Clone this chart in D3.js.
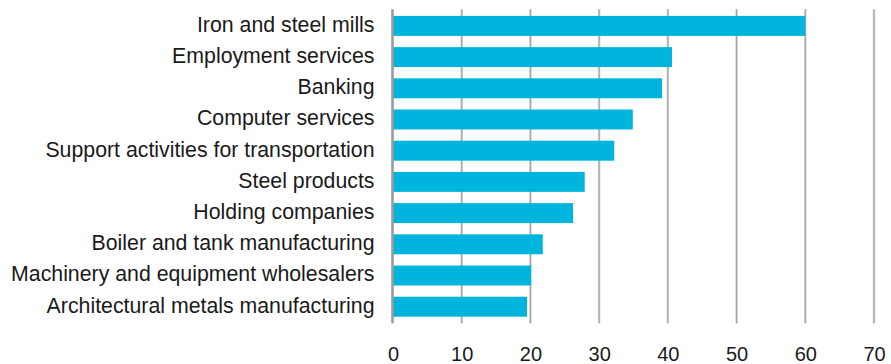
<!DOCTYPE html>
<html>
<head>
<meta charset="utf-8">
<script src="https://cdn.jsdelivr.net/npm/d3@7"></script>
<style>
  html, body { margin: 0; padding: 0; background: #fff; }
  svg { display: block; font-family: "Liberation Sans", Arial, Helvetica, sans-serif; }
</style>
</head>
<body>
<svg id="chart" width="891" height="364"></svg>
<script>
// Industries, top to bottom
const industries = [
  "Iron and steel mills",
  "Employment services",
  "Banking",
  "Computer services",
  "Support activities for transportation",
  "Steel products",
  "Holding companies",
  "Boiler and tank manufacturing",
  "Machinery and equipment wholesalers",
  "Architectural metals manufacturing"
];
const values = [60.0, 40.6, 39.15, 34.9, 32.2, 27.9, 26.2, 21.8, 20.1, 19.5];
const xTicks = [0, 10, 20, 30, 40, 50, 60, 70];

const svg = d3.select("#chart");

const x = d3.scaleLinear().domain([0, 70]).range([393, 874]);
const y = d3.scaleBand()
  .domain(industries)
  .range([10.3, 322.3])
  .paddingInner(0.36)
  .paddingOuter(0.18);

const gridTop = 9.3, gridBottom = 323.3;

// vertical gridlines (soft halo + core)
const grid = svg.append("g");
grid.selectAll("line.halo")
  .data(xTicks.filter(d => d > 0))
  .join("line")
  .attr("class", "halo")
  .attr("x1", d => x(d)).attr("x2", d => x(d))
  .attr("y1", gridTop).attr("y2", gridBottom)
  .attr("stroke", "#dadada").attr("stroke-width", 2.6);
grid.selectAll("line.core")
  .data(xTicks.filter(d => d > 0))
  .join("line")
  .attr("class", "core")
  .attr("x1", d => x(d)).attr("x2", d => x(d))
  .attr("y1", gridTop).attr("y2", gridBottom)
  .attr("stroke", "#a4a4a4").attr("stroke-width", 1.2);

// bars
svg.append("g").selectAll("rect")
  .data(industries.map((name, i) => ({ name, value: values[i] })))
  .join("rect")
  .attr("x", x(0))
  .attr("y", d => y(d.name))
  .attr("width", d => x(d.value) - x(0))
  .attr("height", y.bandwidth())
  .attr("fill", "#00b5dd");

// category axis line
svg.append("line")
  .attr("x1", x(0) - 0.5).attr("x2", x(0) - 0.5)
  .attr("y1", gridTop).attr("y2", gridBottom)
  .attr("stroke", "#9b9b9b").attr("stroke-width", 2.6);

// category labels
svg.append("g").selectAll("text")
  .data(industries)
  .join("text")
  .attr("x", 374.5)
  .attr("y", d => y(d) + y.bandwidth() / 2)
  .attr("dy", "0.28em")
  .attr("text-anchor", "end")
  .attr("font-size", 21.3)
  .attr("fill", "#1a1a1a")
  .text(d => d);

// value axis tick labels
const xAxis = d3.axisBottom(x).tickValues(xTicks).tickSize(0).tickPadding(0).tickFormat(d3.format("d"));
const gx = svg.append("g").attr("transform", "translate(0,347)").call(xAxis);
gx.select(".domain").remove();
gx.selectAll("text")
  .attr("font-size", 20)
  .attr("font-family", "\"Liberation Sans\", Arial, Helvetica, sans-serif")
  .attr("fill", "#1a1a1a")
  .attr("dy", "0.72em")
  .attr("y", 0);
</script>
</body>
</html>
